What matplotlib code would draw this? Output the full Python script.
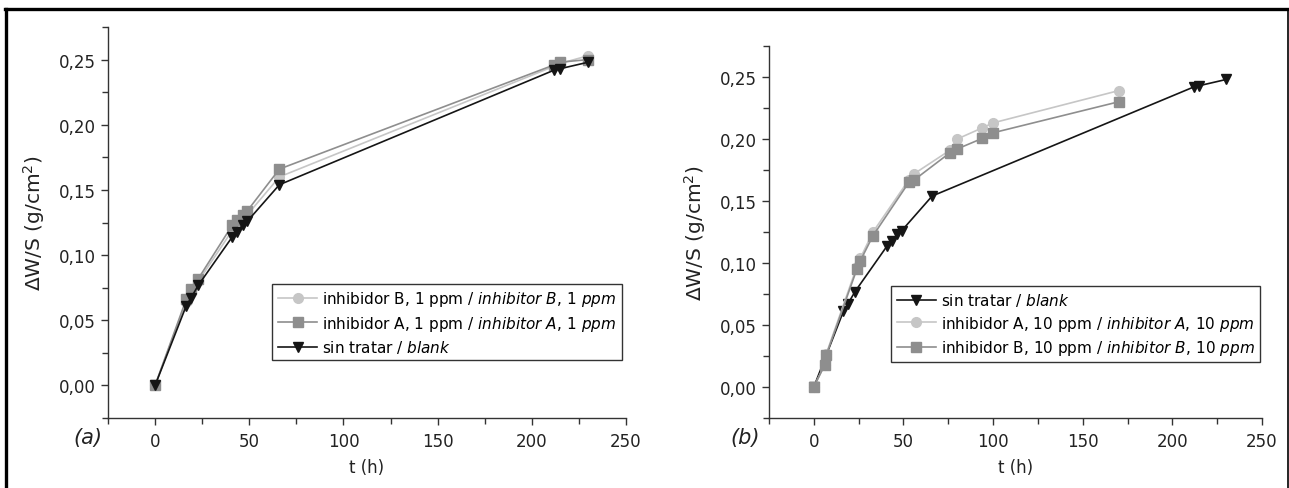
import numpy as np
import matplotlib.pyplot as plt
from matplotlib.lines import Line2D
from matplotlib.ticker import MultipleLocator, FuncFormatter

plt.rcParams['font.family'] = ['DejaVu Sans']
plt.rcParams['mathtext.fontset'] = 'dejavusans'

# (a) data, t in h, dW/S in g/cm2
t_blank = [0, 16.5, 19, 23, 41, 43.5, 46.5, 49, 66, 212, 215, 230]
w_blank = [0, 0.061, 0.067, 0.077, 0.114, 0.118, 0.123, 0.126, 0.154, 0.242, 0.243, 0.248]

ta_1 = [0, 16.5, 19, 23, 41, 43.5, 46.5, 49, 66, 212, 215, 230]
wa_1 = [0, 0.066, 0.074, 0.082, 0.123, 0.127, 0.131, 0.134, 0.166, 0.246, 0.248, 0.250]

tb_1 = [0, 16.5, 19, 23, 41, 43.5, 46.5, 49, 66, 212, 215, 230]
wb_1 = [0, 0.064, 0.071, 0.080, 0.119, 0.122, 0.128, 0.131, 0.160, 0.245, 0.247, 0.253]

# (b) data
ta_10 = [0, 6, 7, 24, 26, 33, 53, 56, 76, 80, 94, 100, 170]
wa_10 = [0, 0.018, 0.027, 0.097, 0.104, 0.125, 0.167, 0.172, 0.191, 0.200, 0.209, 0.213, 0.239]

tb_10 = [0, 6, 7, 24, 26, 33, 53, 56, 76, 80, 94, 100, 170]
wb_10 = [0, 0.0175, 0.026, 0.095, 0.102, 0.122, 0.165, 0.167, 0.189, 0.192, 0.2005, 0.205, 0.230]

C_LIGHT = '#c6c6c6'
C_MID = '#8e8e8e'
C_DARK = '#151515'

W, H = 1289, 489
fig = plt.figure(figsize=(W / 100, H / 100), dpi=100)


def px_axes(x0, y0, x1, y1):
    return fig.add_axes([x0 / W, 1 - y1 / H, (x1 - x0) / W, (y1 - y0) / H])


def style(ax, tag, tag_x):
    ax.set_xlim(-25, 250)
    ax.set_ylim(-0.025, 0.275)
    ax.spines['top'].set_visible(False)
    ax.spines['right'].set_visible(False)
    for s in ('left', 'bottom'):
        ax.spines[s].set_color('#333333')
        ax.spines[s].set_linewidth(1.0)
    ax.xaxis.set_major_locator(MultipleLocator(50))
    ax.xaxis.set_minor_locator(MultipleLocator(25))
    ax.yaxis.set_major_locator(MultipleLocator(0.05))
    ax.yaxis.set_minor_locator(MultipleLocator(0.025))
    ax.yaxis.set_major_formatter(FuncFormatter(lambda v, p: f'{v:.2f}'.replace('.', ',').replace('-0,00', '0,00')))
    ax.tick_params(which='major', length=5, width=1, color='#333333', labelsize=12, labelcolor='#222222')
    ax.tick_params(which='minor', length=4, width=1, color='#333333')
    ax.tick_params(axis='x', pad=5)
    ax.set_xlabel('t (h)', fontsize=12, color='#222222', labelpad=6)
    ax.set_ylabel(r'ΔW/S (g/cm$^2$)', fontsize=14.5, color='#222222', labelpad=9)
    fig.text(tag_x / W, 1 - 438 / H, tag, fontsize=15, style='italic', color='#222222',
             ha='center', va='center')


def lab(plain, ital):
    # mathtext already pads a comma a little, so only a thin space is added
    return plain + ' / $\\mathit{' + ital.replace(', ', ',\\,').replace(' ', '\\ ') + '}$'


leg_kw = dict(loc='upper right', borderaxespad=0, fancybox=False, edgecolor='#333333',
              framealpha=1, fontsize=11, handlelength=2.6, handletextpad=0.3,
              labelspacing=0.35, borderpad=0.35)

# panel (a)
ax1 = px_axes(108, 28, 626, 419)
style(ax1, '(a)', 88)
ax1.plot(tb_1, wb_1, '-o', color=C_LIGHT, ms=7, lw=1.2, label=lab('inhibidor B, 1 ppm', 'inhibitor B, 1 ppm'))
ax1.plot(ta_1, wa_1, '-s', color=C_MID, ms=6.5, lw=1.2, label=lab('inhibidor A, 1 ppm', 'inhibitor A, 1 ppm'))
ax1.plot(t_blank, w_blank, '-v', color=C_DARK, ms=7.5, lw=1.2, label='sin tratar / $\\mathit{blank}$')
ax1.legend(bbox_to_anchor=(0.992, 0.343), **leg_kw).get_frame().set_linewidth(1.0)

# panel (b)
ax2 = px_axes(769, 47, 1262, 419)
style(ax2, '(b)', 745)
ax2.plot(t_blank, w_blank, '-v', color=C_DARK, ms=7.5, lw=1.2, label='sin tratar / $\\mathit{blank}$')
ax2.plot(ta_10, wa_10, '-o', color=C_LIGHT, ms=7, lw=1.2, label=lab('inhibidor A, 10 ppm', 'inhibitor A, 10 ppm'))
ax2.plot(tb_10, wb_10, '-s', color=C_MID, ms=6.5, lw=1.2, label=lab('inhibidor B, 10 ppm', 'inhibitor B, 10 ppm'))
ax2.legend(bbox_to_anchor=(0.996, 0.355), **leg_kw).get_frame().set_linewidth(1.0)

# outer frame
fig.add_artist(Line2D([5 / W, 1287.5 / W], [1 - 10 / H, 1 - 10 / H], color='black', lw=2.4))
fig.add_artist(Line2D([6 / W, 6 / W], [0, 1 - 10 / H], color='black', lw=2.4))
fig.add_artist(Line2D([1287.5 / W, 1287.5 / W], [0, 1 - 10 / H], color='black', lw=1.2))

fig.savefig('out.png', dpi=100)
